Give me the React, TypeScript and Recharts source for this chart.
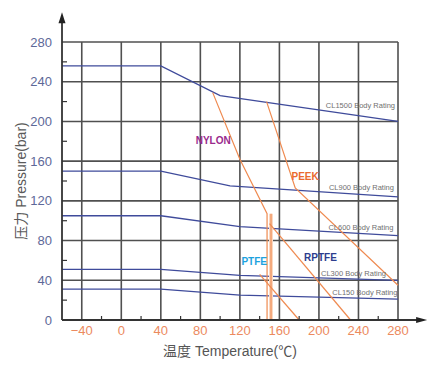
import { CartesianGrid, Line, LineChart, ReferenceDot, ReferenceLine, XAxis, YAxis } from "recharts";

// axis ticks
const xMajor = [-40, 0, 40, 80, 120, 160, 200, 240, 280];
const xMinor = [-20, 20, 60, 100, 140, 180, 220, 260];
const yMajor = [0, 40, 80, 120, 160, 200, 240, 280];
const yMinor = [20, 60, 100, 140, 180, 220, 260];

// body ratings (temperature °C / pressure bar)
const cl1500T = [-60, 40, 100, 280];
const cl1500P = [256, 256, 226, 200];
const cl900T = [-60, 40, 110, 280];
const cl900P = [150, 150, 135, 124];
const cl600T = [-60, 40, 120, 280];
const cl600P = [105, 105, 94, 85];
const cl300T = [-60, 40, 120, 280];
const cl300P = [51, 51, 45, 40];
const cl150T = [-60, 40, 120, 280];
const cl150P = [31, 31, 25, 21];

// seat materials
const nylonT = [92.5, 120, 147.5, 147.5];
const nylonP = [229, 162, 107, 0];
const nylonEdgeT = [151.5, 151.5];
const nylonEdgeP = [107, 0];
const ptfeT = [140, 180];
const ptfeP = [46, 0];
const rptfeT = [150, 232];
const rptfeP = [97, 0];
const peekT = [147, 176, 280];
const peekP = [220, 133, 35];

const ratingNames = ["CL1500 Body Rating", "CL900 Body Rating", "CL600 Body Rating", "CL300 Body Rating", "CL150 Body Rating"];
const ratingLabelT = [242, 243, 242.5, 235, 246.5];
const ratingLabelP = [216, 133.5, 93.5, 47.5, 27.5];

const materialNames = ["NYLON", "PEEK", "PTFE", "RPTFE"];
const materialLabelT = [93, 186, 134.5, 201.5];
const materialLabelP = [181, 145, 58.5, 62.5];
const materialColors = ["#9a2a8c", "#ea6a2e", "#1ea2de", "#2d3d8e"];

const toPts = (ts: number[], ps: number[]) => ts.map((t, i) => ({ t, p: ps[i] }));

const FONT = "'Liberation Sans', 'Noto Sans CJK SC', sans-serif";
const BLUE = "#3f4b9b";
const ORANGE = "#ef8a50";
const GRID = "#505050";

function XTick(props: any) {
  const { x, y, payload } = props;
  if (xMinor.includes(payload.value)) {
    return <line x1={x} y1={y} x2={x} y2={y - 4} stroke="#333" strokeWidth={1.2} />;
  }
  return (
    <text x={x} y={y + 10} dy="0.35em" textAnchor="middle" fill="#ec8a5e" fontSize={13} fontFamily={FONT}>
      {payload.value < 0 ? `\u2212${-payload.value}` : payload.value}
    </text>
  );
}

function YTick(props: any) {
  const { x, y, payload } = props;
  if (yMinor.includes(payload.value)) {
    return <line x1={x} y1={y} x2={x + 5} y2={y} stroke="#333" strokeWidth={1.2} />;
  }
  return (
    <text x={x - 10} y={y} dy="0.35em" textAnchor="end" fill="#5d6898" fontSize={13} fontFamily={FONT}>
      {payload.value}
    </text>
  );
}

const arrowShape = (vertical: boolean) => (props: any) => {
  const { x1, y1, x2, y2 } = props;
  const head = vertical
    ? `${x2},${y2} ${x2 - 3.5},${y2 + 11} ${x2 + 3.5},${y2 + 11}`
    : `${x2},${y2} ${x2 - 11},${y2 - 3} ${x2 - 11},${y2 + 3}`;
  return (
    <g>
      <line x1={x1} y1={y1} x2={vertical ? x2 : x2 - 6} y2={vertical ? y2 + 6 : y2} stroke="#333" strokeWidth={1.8} />
      <polygon points={head} fill="#222" />
    </g>
  );
};

const ratings = [
  toPts(cl1500T, cl1500P),
  toPts(cl900T, cl900P),
  toPts(cl600T, cl600P),
  toPts(cl300T, cl300P),
  toPts(cl150T, cl150P),
];

export default function App() {
  return (
    <div style={{ position: "absolute", left: 0, top: 0, width: 440, height: 368, background: "#fff" }}>
      <LineChart width={440} height={368} margin={{ top: 42, right: 42, bottom: 0, left: 0 }}>
        <CartesianGrid verticalValues={xMajor} horizontalValues={yMajor} stroke={GRID} strokeWidth={1.6} />
        <XAxis
          type="number"
          dataKey="t"
          domain={[-60, 280]}
          ticks={[...xMajor, ...xMinor].sort((a, b) => a - b)}
          interval={0}
          axisLine={false}
          tickLine={false}
          tickSize={0}
          tickMargin={0}
          height={48}
          tick={<XTick />}
          label={{ value: "温度 Temperature(℃)", position: "insideBottom", offset: 12, fill: "#555", fontSize: 14, fontFamily: FONT }}
        />
        <YAxis
          type="number"
          dataKey="p"
          domain={[0, 280]}
          ticks={[...yMajor, ...yMinor].sort((a, b) => a - b)}
          interval={0}
          axisLine={false}
          tickLine={false}
          tickSize={0}
          tickMargin={0}
          width={62}
          tick={<YTick />}
          label={{ value: "压力 Pressure(bar)", angle: -90, position: "insideLeft", offset: 21, fill: "#5a5a5a", fontSize: 14, fontFamily: FONT, style: { textAnchor: "middle" } }}
        />
        {ratings.map((pts, i) => (
          <Line key={ratingNames[i]} data={pts} dataKey="p" type="linear" stroke={BLUE} strokeWidth={1.3} dot={false} isAnimationActive={false} />
        ))}
        <Line data={toPts(nylonEdgeT, nylonEdgeP)} dataKey="p" type="linear" stroke="#fbd8c2" strokeWidth={4} dot={false} isAnimationActive={false} />
        <Line data={toPts(nylonT, nylonP)} dataKey="p" type="linear" stroke={ORANGE} strokeWidth={1.2} dot={false} isAnimationActive={false} />
        <Line data={toPts(nylonEdgeT, nylonEdgeP)} dataKey="p" type="linear" stroke={ORANGE} strokeWidth={1.2} dot={false} isAnimationActive={false} />
        <Line data={toPts(ptfeT, ptfeP)} dataKey="p" type="linear" stroke={ORANGE} strokeWidth={1.2} dot={false} isAnimationActive={false} />
        <Line data={toPts(rptfeT, rptfeP)} dataKey="p" type="linear" stroke={ORANGE} strokeWidth={1.2} dot={false} isAnimationActive={false} />
        <Line data={toPts(peekT, peekP)} dataKey="p" type="linear" stroke={ORANGE} strokeWidth={1.2} dot={false} isAnimationActive={false} />
        <ReferenceLine segment={[{ x: -60, y: 0 }, { x: -60, y: 310 }]} ifOverflow="visible" shape={arrowShape(true)} />
        <ReferenceLine segment={[{ x: -60, y: 0 }, { x: 309.5, y: 0 }]} ifOverflow="visible" shape={arrowShape(false)} />
        {ratingNames.map((name, i) => (
          <ReferenceDot
            key={name}
            x={ratingLabelT[i]}
            y={ratingLabelP[i]}
            r={0}
            fill="none"
            stroke="none"
            label={{ value: name, position: "center", fill: "#707070", fontSize: 7.5, fontFamily: FONT }}
          />
        ))}
        {materialNames.map((name, i) => (
          <ReferenceDot
            key={name}
            x={materialLabelT[i]}
            y={materialLabelP[i]}
            r={0}
            fill="none"
            stroke="none"
            label={{ value: name, position: "center", fill: materialColors[i], fontSize: 10, fontWeight: 700, fontFamily: FONT }}
          />
        ))}
      </LineChart>
    </div>
  );
}
